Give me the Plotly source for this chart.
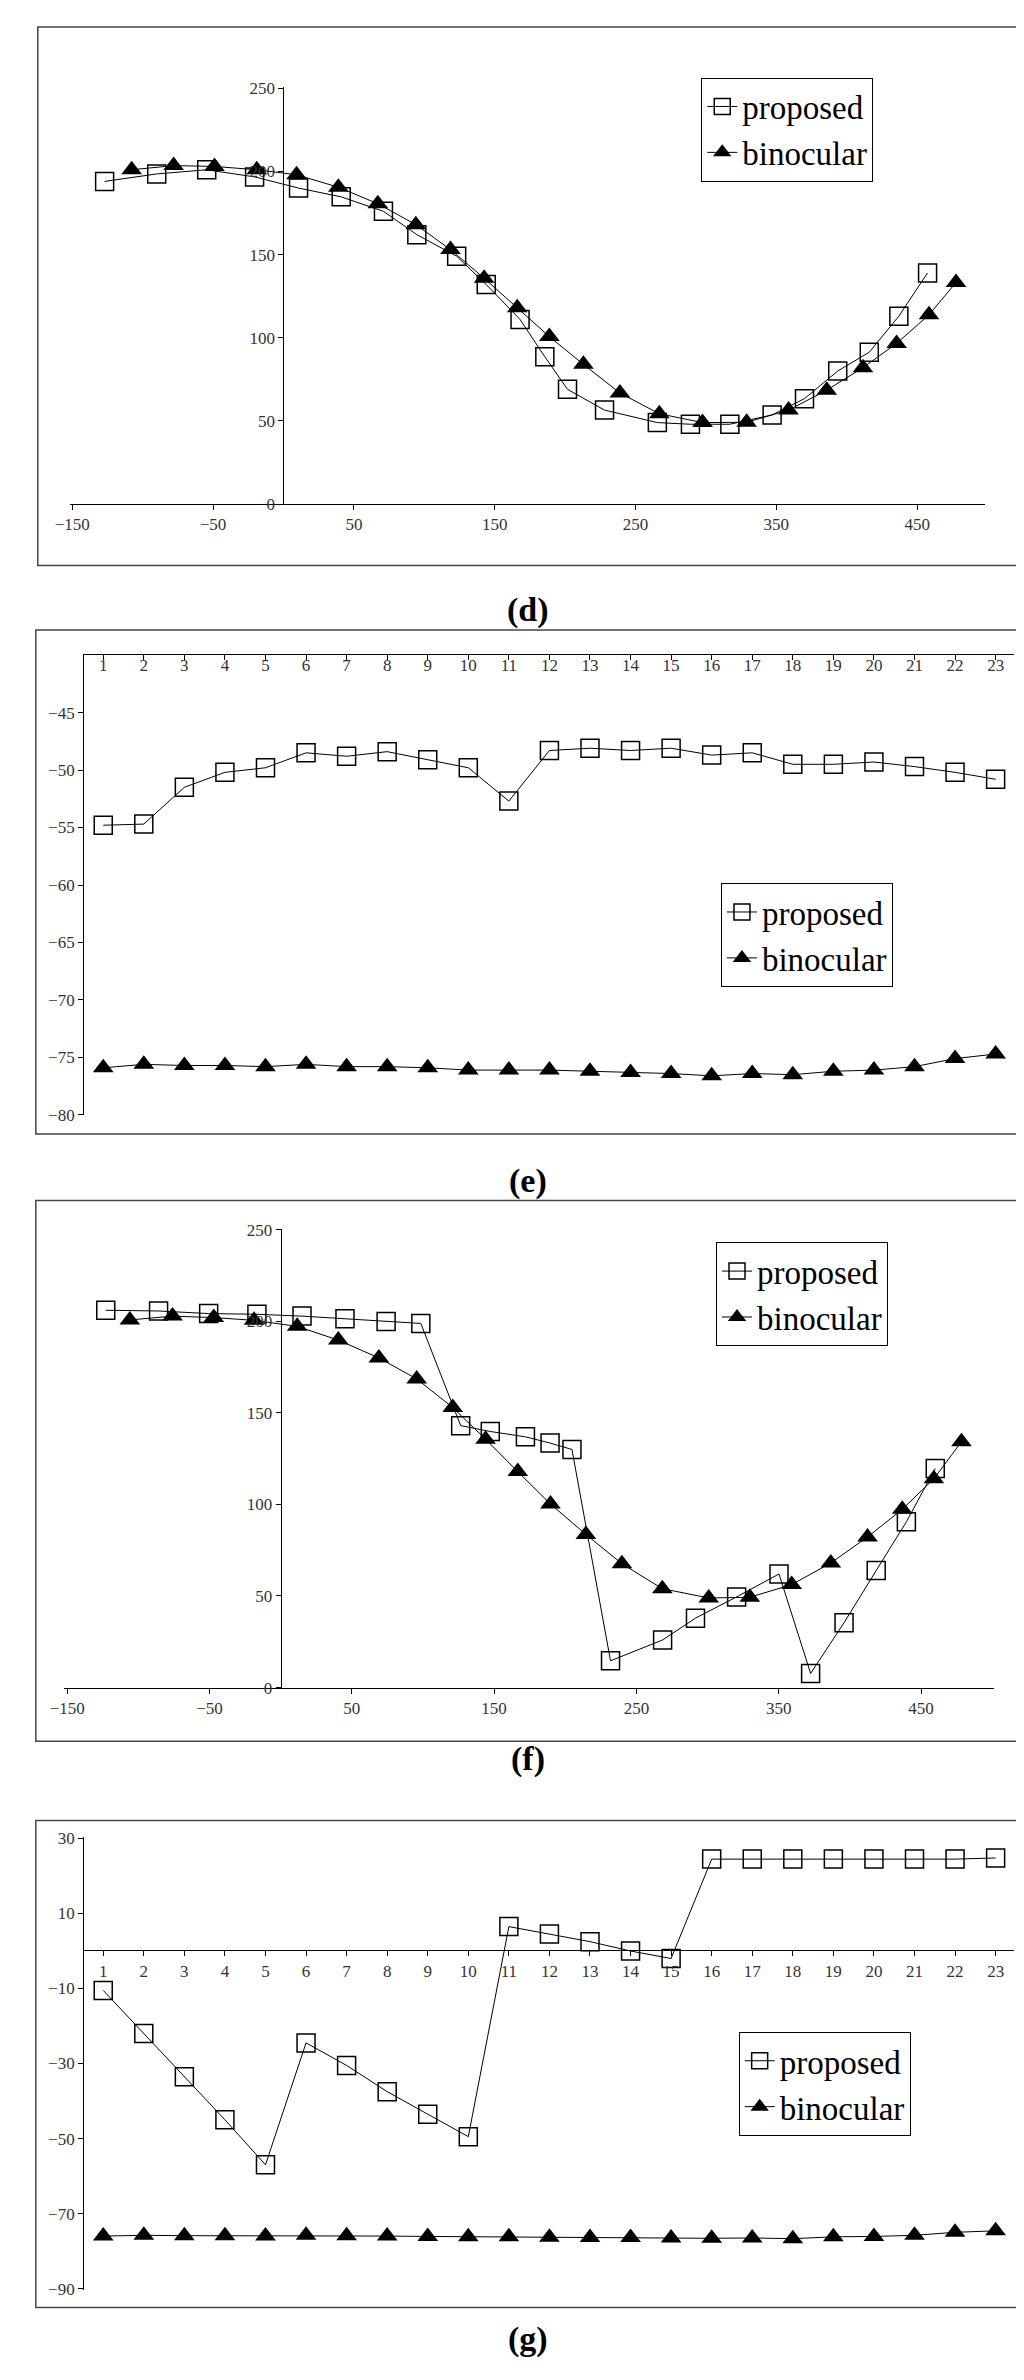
import plotly.graph_objects as go

W, H = 1024, 2380

# panel (d)
d_prop_x = [-127, -90, -54.5, -20.5, 10.7, 41, 71, 94.7, 123, 144, 168, 185.6, 201.7, 228, 265.5, 289, 317, 347, 370, 393.6, 416, 437, 457.4]
d_prop_y = [194, 198.5, 201, 196.7, 190, 184.7, 176, 162, 149, 132, 111, 88.6, 69, 56.5, 49, 48, 48, 53.6, 63.4, 80, 91.3, 113, 139]
d_bino_x = [-107.8, -78, -49, -19, 9.3, 39, 67, 94, 118.6, 142.5, 166, 188.8, 213, 238.9, 266.9, 297.6, 328.9, 358.7, 385.8, 411.5, 435.4, 458.4, 477.6]
d_bino_y = [201, 203.5, 203, 201, 198, 190.5, 180.6, 168, 153, 135.8, 118, 100.7, 84, 66.8, 54.3, 49, 49.2, 56.5, 68.5, 82, 96.6, 113.8, 133.2]

# panel (e)
e_x = list(range(1, 24))
e_prop = [-54.8, -54.7, -51.5, -50.2, -49.8, -48.5, -48.8, -48.4, -49.1, -49.8, -52.7, -48.3,
          -48.1, -48.3, -48.1, -48.7, -48.5, -49.5, -49.5, -49.3, -49.7, -50.2, -50.8]
e_bino = [-75.9, -75.6, -75.7, -75.7, -75.8, -75.6, -75.8, -75.8, -75.9, -76.1, -76.1, -76.1,
          -76.2, -76.3, -76.4, -76.6, -76.4, -76.5, -76.2, -76.1, -75.8, -75.1, -74.7]

# panel (f)
f_prop_x = [-122.9, -85.8, -50.6, -16.7, 15, 45.2, 74.1, 98.5, 126.5, 147.3, 172, 189.3, 204.7, 231.8, 268.4, 291.5, 320.4, 350.2, 372.4, 395.9, 418.5, 439.7, 460]
f_prop_y = [206, 205.6, 204.2, 203.8, 202.8, 201.3, 199.9, 198.8, 143, 139.8, 136.9, 133.5, 130, 14.6, 26, 37.9, 49.5, 62, 7.7, 35.4, 63.9, 90.5, 119.6]
f_bino_x = [-106, -76, -47, -18.7, 11.6, 40.5, 69, 95.6, 120.9, 144, 166.6, 189.6, 214.5, 239.8, 268.2, 300.8, 329.7, 359.1, 386.6, 412.4, 436.8, 459, 478.4]
f_bino_y = [200.7, 202.8, 202, 200.5, 197.2, 189.7, 180, 168.5, 152.9, 135.6, 117.9, 100.2, 83.6, 67.6, 54, 48.9, 49.3, 56.2, 68, 82.2, 97.3, 114, 134.2]

# panel (g)
g_x = list(range(1, 24))
g_prop = [-10.5, -22, -33.5, -45, -57, -24.5, -30.5, -37.5, -43.5, -49.5, 6.5, 4.5,
          2.5, 0, -2, 24.5, 24.5, 24.5, 24.5, 24.5, 24.5, 24.5, 24.8]
g_bino = [-76, -75.8, -75.9, -75.9, -76, -75.8, -75.9, -76, -76.1, -76.2, -76.2, -76.3,
          -76.4, -76.4, -76.5, -76.6, -76.5, -76.7, -76.2, -76.1, -75.8, -75, -74.6]

tick_font = dict(family='Liberation Serif', size=17, color='#333')
leg_font = dict(family='Liberation Serif', size=33, color='black')
sq = dict(symbol='square-open', size=18, color='black', line=dict(width=1.5))
tri = dict(symbol='triangle-up', size=18, color='black')


def px(v):
    return v / W


def py(v):
    return 1 - v / H


fig = go.Figure()
panels = [
    ('', d_prop_x, d_prop_y, d_bino_x, d_bino_y, 'legend'),
    ('2', e_x, e_prop, e_x, e_bino, 'legend2'),
    ('3', f_prop_x, f_prop_y, f_bino_x, f_bino_y, 'legend3'),
    ('4', g_x, g_prop, g_x, g_bino, 'legend4'),
]
for ax, x1, y1, x2, y2, leg in panels:
    fig.add_trace(go.Scatter(x=x1, y=y1, name='proposed', mode='lines+markers', marker=sq,
                             line=dict(color='black', width=1), xaxis='x' + ax, yaxis='y' + ax, legend=leg))
    fig.add_trace(go.Scatter(x=x2, y=y2, name='binocular', mode='lines+markers', marker=tri,
                             line=dict(color='black', width=1), xaxis='x' + ax, yaxis='y' + ax, legend=leg))

common = dict(showgrid=False, zeroline=False, showline=True, linecolor='black', linewidth=1,
              tickfont=tick_font, ticks='outside', ticklen=5, tickcolor='black')

# (d) and (f): y-axis sits at x=0
dx0, dx1, drange = 47, 976, [-151.4, 498]
fx0, fx1, frange = 41, 985, [-152, 501]
d_ypos = px(dx0) + (0 - drange[0]) / (drange[1] - drange[0]) * px(dx1 - dx0)
f_ypos = px(fx0) + (0 - frange[0]) / (frange[1] - frange[0]) * px(fx1 - fx0)

# (g): x-axis sits at y=0
g_lo, g_hi = py(2291), py(1835)
g_xpos = g_lo + 90 / 120 * (g_hi - g_lo)

fig.update_layout(
    width=W, height=H, margin=dict(l=0, r=0, t=0, b=0),
    paper_bgcolor='white', plot_bgcolor='white',
    xaxis=dict(common, domain=[px(dx0), px(dx1)], range=drange, tick0=-150, dtick=100, anchor='y'),
    yaxis=dict(common, domain=[py(491), py(71)], range=[0, 250.5], dtick=50, anchor='free', position=d_ypos),
    xaxis2=dict(common, domain=[px(61), px(1006)], range=[0.527, 23.46], tickvals=e_x, side='top',
                ticks='inside', ticklabelposition='inside', anchor='y2'),
    yaxis2=dict(common, domain=[py(1107), py(643)], range=[-80.02, -39.98], dtick=5, anchor='x2'),
    xaxis3=dict(common, domain=[px(fx0), px(fx1)], range=frange, tick0=-150, dtick=100, anchor='y3'),
    yaxis3=dict(common, domain=[py(1684), py(1221.5)], range=[0, 250.5], dtick=50, anchor='free', position=f_ypos),
    xaxis4=dict(common, domain=[px(61), px(1006)], range=[0.527, 23.46], tickvals=g_x, anchor='free', position=g_xpos),
    yaxis4=dict(common, domain=[g_lo, g_hi], range=[-90.3, 30.3], tick0=-90, dtick=20, anchor='x4'),
)

legends = {'legend': (688, 61, 939, 167), 'legend2': (708, 873, 930, 1003),
           'legend3': (703, 1235, 917, 1369), 'legend4': (726, 2031, 943, 2160)}
for name, (l, t, r, b) in legends.items():
    fig.update_layout({name: dict(x=px(l), y=py(t), xanchor='left', yanchor='top', font=leg_font,
                                  bordercolor='black', borderwidth=1, bgcolor='white',
                                  itemwidth=30, tracegroupgap=8)})

frames = [(14, 10, 1010, 553), (12, 618, 1010, 1126), (12, 1193, 1012, 1738), (12, 1818, 1010, 2309)]
for l, t, r, b in frames:
    fig.add_shape(type='rect', xref='paper', yref='paper', x0=px(l), x1=px(r), y0=py(b), y1=py(t),
                  line=dict(color='#444', width=1.5))

for lab, yy in [('(d)', 577), ('(e)', 1173), ('(f)', 1777), ('(g)', 2362)]:
    fig.add_annotation(text='<b>' + lab + '</b>', x=0.5, y=py(yy), xref='paper', yref='paper',
                       showarrow=False, font=dict(family='Liberation Serif', size=34, color='black'))

fig.write_html("out.html")
